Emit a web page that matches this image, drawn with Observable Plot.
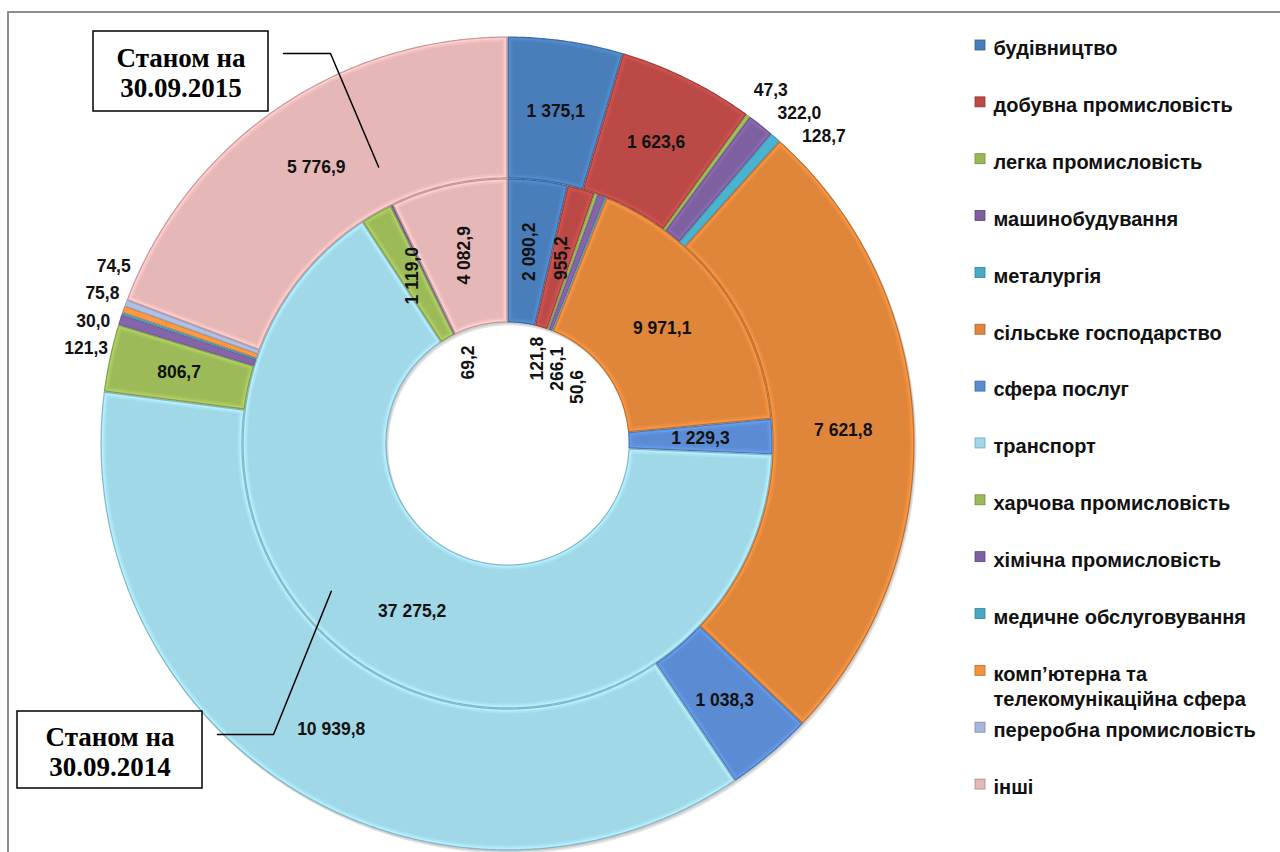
<!DOCTYPE html>
<html>
<head>
<meta charset="utf-8">
<script src="https://cdn.jsdelivr.net/npm/d3@7"></script>
<script src="https://cdn.jsdelivr.net/npm/@observablehq/plot@0.6"></script>
<style>
  html, body { margin: 0; padding: 0; background: #fff; }
  #wrap { position: relative; width: 1280px; height: 852px; overflow: hidden; }
  #frame { position: absolute; left: 7px; top: 11px; right: -20px; bottom: -20px;
           border-left: 2px solid #8e8e8e; border-top: 2px solid #8e8e8e; pointer-events: none; }
  #wrap svg.plotsvg { position: absolute; left: 0; top: 0; }
</style>
</head>
<body>
<div id="wrap"><div id="frame"></div></div>
<script>
// ---------------- data ----------------
const categories = [
  "будівництво",
  "добувна промисловість",
  "легка промисловість",
  "машинобудування",
  "металургія",
  "сільське господарство",
  "сфера послуг",
  "транспорт",
  "харчова промисловість",
  "хімічна промисловість",
  "медичне обслуговування",
  "комп’ютерна та телекомунікаційна сфера",
  "переробна промисловість",
  "інші"
];
// inner ring: стан на 30.09.2014
const values2014 = [2090.2, 955.2, 121.8, 266.1, 50.6, 9971.1, 1229.3, 37275.2, 1119.0, 69.2, null, null, null, 4082.9];
// outer ring: стан на 30.09.2015
const values2015 = [1375.1, 1623.6, 47.3, 322.0, 128.7, 7621.8, 1038.3, 10939.8, 806.7, 121.3, 30.0, 75.8, 74.5, 5776.9];
const seriesNames = ["Станом на\n30.09.2014", "Станом на\n30.09.2015"];
const colors = [
  "#4a7ebb", "#bb4a47", "#98b954", "#7d60a0", "#46aac5", "#df863b", "#5a8bd3",
  "#a1d8e8", "#9cbb58", "#7d60a0", "#46aac5", "#f3923f", "#a7b6dc", "#e5b8b7"
];

// ---------------- layout ----------------
const W = 1280, H = 852;
const cx = 507, cy = 443;
const rings = [
  {name: seriesNames[0], values: values2014, r0: 121, r1: 265, inner: true},
  {name: seriesNames[1], values: values2015, r0: 265, r1: 407, inner: false}
];
const fmt = d3.formatLocale({decimal: ",", thousands: " ", grouping: [3], currency: ["", ""]}).format(",.1f");
const pt = (a, r) => [cx + r * Math.sin(a), cy - r * Math.cos(a)];
const deg = Math.PI / 180;

const pie = d3.pie().sort(null).value(d => d.value);
const slices = rings.flatMap((ring, ri) => {
  const items = categories
    .map((c, i) => ({category: c, color: colors[i], value: ring.values[i]}))
    .filter(d => d.value != null);
  return pie(items).map((p, k) => ({...p.data, a0: p.startAngle, a1: p.endAngle, ring, id: ri + "-" + k}));
});

// polygon of a slice, inset by `ins` pixels on every side
function polygon(s, ins, sid, col, dx = 0, dy = 0) {
  const ri = s.ring.r0 + ins, ro = s.ring.r1 - ins;
  const rows = [];
  const side = (r, forward) => {
    const b0 = s.a0 + ins / r, b1 = s.a1 - ins / r;
    const n = Math.max(2, Math.ceil((b1 - b0) / (0.4 * deg)));
    for (let j = 0; j <= n; j++) {
      const i = forward ? j : n - j;
      const [x, y] = pt(b0 + (b1 - b0) * i / n, r);
      rows.push({sid, px: x + dx, py: y + dy, col});
    }
  };
  side(ro, true);
  side(ri, false);
  return rows;
}
const shadowRows = slices.flatMap(s => [
  ...polygon(s, 0, "sh1" + s.id, "#000", 2, 3),
  ...polygon(s, 0, "sh2" + s.id, "#000", 1, 1.5)
]);
// Excel-like bevel: dark rim, light band, softer band, body
const sliceRows = slices.flatMap(s => {
  const c = d3.color(s.color);
  const wide = (s.a1 - s.a0) * s.ring.r0 > 12;
  if (!wide) return [
    ...polygon(s, 0, s.id + "a", c.darker(0.45).formatHex()),
    ...polygon(s, 0.8, s.id + "b", c.brighter(0.15).formatHex())
  ];
  return [
    ...polygon(s, 0, s.id + "a", c.darker(0.5).formatHex()),
    ...polygon(s, 1.2, s.id + "b", c.brighter(0.3).formatHex()),
    ...polygon(s, 3, s.id + "c", c.brighter(0.12).formatHex()),
    ...polygon(s, 5, s.id + "d", s.color)
  ];
});

// ---------------- labels ----------------
const labels = [];
const holeR = 90, outR = 438;
const holeRight = [], holeLeft = [], outRight = [], outLeft = [];
for (const s of slices) {
  const mid = (s.a0 + s.a1) / 2, span = s.a1 - s.a0;
  const text = fmt(s.value);
  if (span >= 5 * deg) {
    const [x, y] = pt(mid, (s.ring.r0 + s.ring.r1) / 2);
    const vertical = s.ring.inner && (mid < 45 * deg || mid > 315 * deg);
    labels.push({x, y, text, rotate: vertical ? -90 : 0});
  } else if (s.ring.inner) {
    const [x, y] = pt(mid, holeR);
    (x >= cx ? holeRight : holeLeft).push({x, y, text, rotate: -90});
  } else {
    const [x, y] = pt(mid, outR);
    (x >= cx ? outRight : outLeft).push({x, y, text, rotate: 0});
  }
}
holeRight.sort((a, b) => a.x - b.x).forEach((d, i, A) => { if (i) d.x = Math.max(d.x, A[i - 1].x + 20); });
holeLeft.sort((a, b) => b.x - a.x).forEach((d, i, A) => { if (i) d.x = Math.min(d.x, A[i - 1].x - 20); });
for (const d of [...holeRight, ...holeLeft]) {
  const dx = Math.min(Math.abs(d.x - cx), holeR - 5);
  d.y = cy - Math.sqrt(holeR * holeR - dx * dx);
  labels.push(d);
}
outRight.sort((a, b) => a.y - b.y).forEach((d, i, A) => { if (i) d.y = Math.max(d.y, A[i - 1].y + 23); });
if (outLeft.length) {
  outLeft.sort((a, b) => a.y - b.y);
  const m = d3.mean(outLeft, d => d.y) + 6, gap = 27.5;
  outLeft.forEach((d, i) => { d.y = m + (i - (outLeft.length - 1) / 2) * gap; });
}
for (const d of outRight) { const dy = d.y - cy; d.x = cx + 4 + Math.sqrt(outR * outR - dy * dy); labels.push(d); }
for (const d of outLeft) { const dy = d.y - cy; d.x = cx - Math.sqrt((outR - 6) ** 2 - dy * dy); labels.push(d); }

// ---------------- legend ----------------
const legendRows = categories.map((c, i) => ({
  label: c.replace(" телекомунікаційна", "\nтелекомунікаційна"),
  color: colors[i],
  y: 45 + i * 56.85
}));
const legendX = 980;

// ---------------- annotations ----------------
const notes = [
  {name: seriesNames[1], box: [93, 31, 268, 111], line: [[283, 53], [330, 53], pt(335 * deg, 305)]},
  {name: seriesNames[0], box: [17, 711, 202, 788], line: [[217, 734], [273, 734], pt(230 * deg, 230)]}
];
const noteLines = notes.flatMap((n, i) => n.line.map(([x, y]) => ({i, x, y})));

const plot = Plot.plot({
  width: W, height: H, margin: 0,
  x: {type: "identity", axis: null},
  y: {type: "identity", axis: null},
  color: {type: "identity"},
  style: {background: "transparent", fontFamily: "'Liberation Sans', Arial, sans-serif"},
  marks: [
    Plot.line(shadowRows, {x: "px", y: "py", z: "sid", fill: "col", fillOpacity: 0.1, stroke: "none", curve: "linear-closed"}),
    Plot.line(sliceRows, {x: "px", y: "py", z: "sid", fill: "col", stroke: "none", curve: "linear-closed"}),
    Plot.text(labels, {x: "x", y: "y", text: "text", rotate: "rotate", fontSize: 17.5, fontWeight: "bold", fill: "#111"}),
    Plot.rect(legendRows, {x1: legendX - 5, x2: legendX + 5, y1: d => d.y - 5, y2: d => d.y + 5, fill: "color", stroke: d => d3.color(d.color).darker(0.8).formatHex(), strokeWidth: 0.8}),
    Plot.text(legendRows, {x: legendX + 13, y: "y", text: "label", textAnchor: "start", lineAnchor: "top", dy: -8, lineHeight: 1.25, fontSize: 20, fontWeight: "bold", fill: "#111"}),
    Plot.rect(notes, {x1: d => d.box[0], y1: d => d.box[1], x2: d => d.box[2], y2: d => d.box[3], fill: "white", stroke: "black", strokeWidth: 1.5}),
    Plot.text(notes, {x: d => (d.box[0] + d.box[2]) / 2, y: d => (d.box[1] + d.box[3]) / 2 + 1, text: "name", fontFamily: "'Liberation Serif', 'Times New Roman', serif", fontSize: 27, fontWeight: "bold", lineHeight: 1.12, fill: "black"}),
    Plot.line(noteLines, {x: "x", y: "y", z: "i", stroke: "black", strokeWidth: 1.5})
  ]
});
plot.classList.add("plotsvg");
document.getElementById("wrap").prepend(plot);
</script>
</body>
</html>
